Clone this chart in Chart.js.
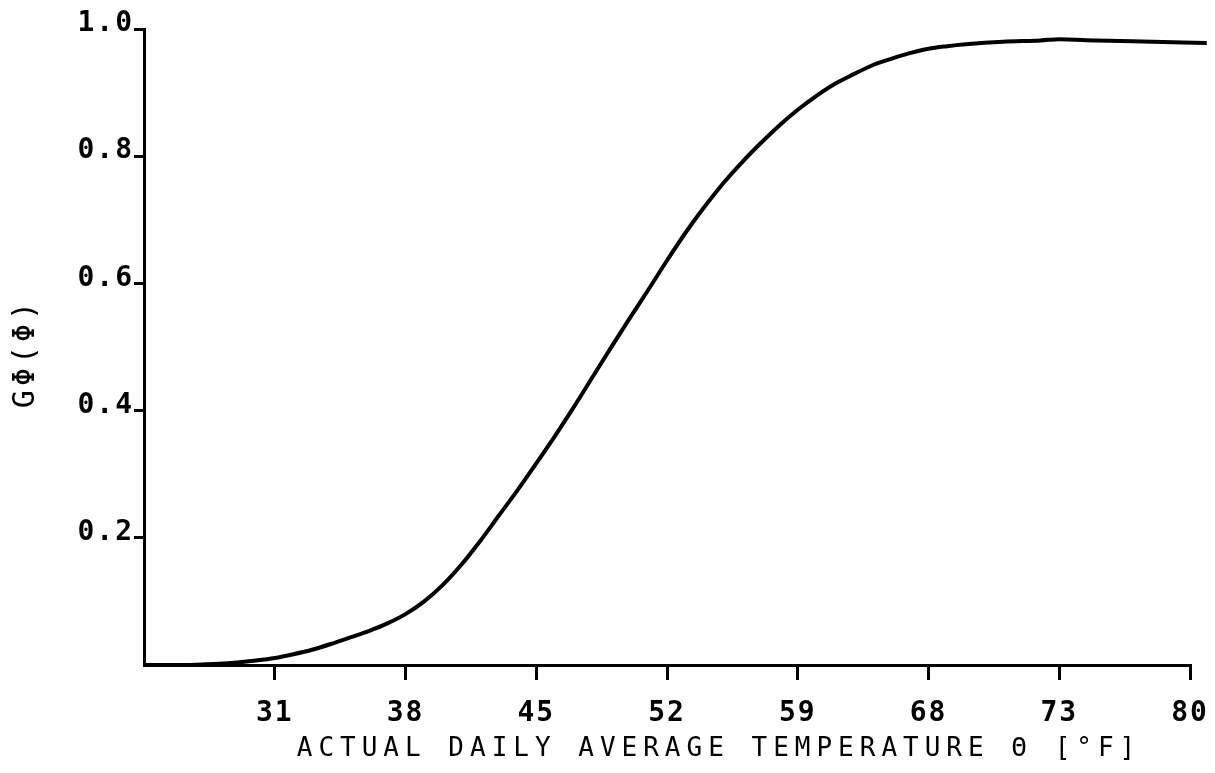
<!DOCTYPE html>
<html>
<head>
<meta charset="utf-8">
<script src="https://cdn.jsdelivr.net/npm/chart.js@4/dist/chart.umd.min.js"></script>
<style>
  html, body { margin: 0; padding: 0; background: #fff; }
  #wrap { width: 1215px; height: 773px; }
</style>
</head>
<body>
<div id="wrap"><canvas id="c" width="1215" height="773"></canvas></div>
<script>
// Temperature (°F) and G_Phi values
const temps = [24, 26, 28, 29, 30, 31, 32, 33, 34, 35, 36, 37, 38, 39, 40, 41, 42, 43, 44, 45,
               46, 47, 48, 49, 50, 51, 52, 53, 54, 55, 56, 57, 58, 59, 60, 61, 62, 63, 64, 65,
               66, 67, 68, 70, 72, 73, 75, 78, 80.9];
const gValues = [0.0, 0.0, 0.002, 0.004, 0.007, 0.011, 0.017, 0.024, 0.033, 0.043, 0.053, 0.065, 0.080, 0.100, 0.126, 0.158, 0.195, 0.235, 0.275, 0.317,
                 0.360, 0.405, 0.452, 0.499, 0.545, 0.590, 0.636, 0.680, 0.720, 0.757, 0.790, 0.820, 0.848, 0.873, 0.895, 0.914, 0.929, 0.943, 0.953, 0.962,
                 0.969, 0.973, 0.976, 0.980, 0.982, 0.984, 0.982, 0.980, 0.978];
const xTickValues = [31, 38, 45, 52, 59, 66, 73, 80];
const xTickLabels = ['31', '38', '45', '52', '59', '68', '73', '80'];
const yTickValues = [0.2, 0.4, 0.6, 0.8, 1.0];
const yTickLabels = ['0.2', '0.4', '0.6', '0.8', '1.0'];
const xTitle = 'ACTUAL DAILY AVERAGE TEMPERATURE Θ [°F]';
const yTitle = 'GΦ(Φ)';

const points = temps.map((t, i) => ({ x: t, y: gValues[i] }));

function patchTitle(scale, spacing, dx, dy) {
  if (scale._titlePatched) return;
  const orig = scale.drawTitle.bind(scale);
  scale.drawTitle = function () {
    const c = this.ctx;
    c.save();
    c.letterSpacing = spacing;
    c.translate(dx, dy);
    orig();
    c.restore();
  };
  scale._titlePatched = true;
}

const spacingPlugin = {
  id: 'spacing',
  beforeUpdate(chart) { chart.ctx.letterSpacing = '2px'; },
  beforeDraw(chart) {
    chart.ctx.letterSpacing = '2px';
    patchTitle(chart.scales.x, '6px', 52, 0);
    patchTitle(chart.scales.y, '4px', 0, 6);
  }
};

new Chart(document.getElementById('c'), {
  type: 'line',
  data: {
    datasets: [{
      data: points,
      borderColor: '#000',
      borderWidth: 4,
      pointRadius: 0,
      fill: false,
      cubicInterpolationMode: 'monotone',
      clip: false
    }]
  },
  options: {
    responsive: false,
    animation: false,
    devicePixelRatio: 1,
    layout: { padding: { top: 29, right: 25, bottom: 8, left: 0 } },
    plugins: { legend: { display: false }, tooltip: { enabled: false } },
    scales: {
      x: {
        type: 'linear',
        min: 24,
        max: 80,
        afterBuildTicks(scale) { scale.ticks = xTickValues.map(v => ({ value: v })); },
        afterFit(scale) { scale.height = 100; scale.paddingRight = 0; scale.paddingLeft = 0; },
        ticks: {
          color: '#000',
          padding: 17,
          font: { family: 'DejaVu Sans Mono', size: 28, weight: 'bold' },
          callback(value) { const i = xTickValues.indexOf(value); return i >= 0 ? xTickLabels[i] : ''; }
        },
        grid: { drawOnChartArea: false, drawTicks: true, tickLength: 15, color: '#000', lineWidth: 3 },
        border: { display: true, color: '#000', width: 3 },
        title: {
          display: true,
          text: xTitle,
          color: '#000',
          font: { family: 'DejaVu Sans Mono', size: 26 },
          padding: { top: 0, bottom: 0 }
        }
      },
      y: {
        type: 'linear',
        min: 0,
        max: 1,
        afterBuildTicks(scale) { scale.ticks = yTickValues.map(v => ({ value: v })); },
        afterFit(scale) { scale.width = 144; scale.paddingTop = 0; scale.paddingBottom = 0; },
        ticks: {
          color: '#000',
          padding: 0,
          labelOffset: -5,
          font: { family: 'DejaVu Sans Mono', size: 28, weight: 'bold' },
          callback(value) { const i = yTickValues.findIndex(v => Math.abs(v - value) < 1e-9); return i >= 0 ? yTickLabels[i] : ''; }
        },
        grid: { drawOnChartArea: false, drawTicks: true, tickLength: 10, color: '#000', lineWidth: 3 },
        border: { display: true, color: '#000', width: 3 },
        title: {
          display: true,
          text: yTitle,
          color: '#000',
          font: { family: 'DejaVu Sans Mono', size: 30 },
          padding: { top: 8, bottom: 0 }
        }
      }
    }
  },
  plugins: [spacingPlugin]
});
</script>
</body>
</html>
